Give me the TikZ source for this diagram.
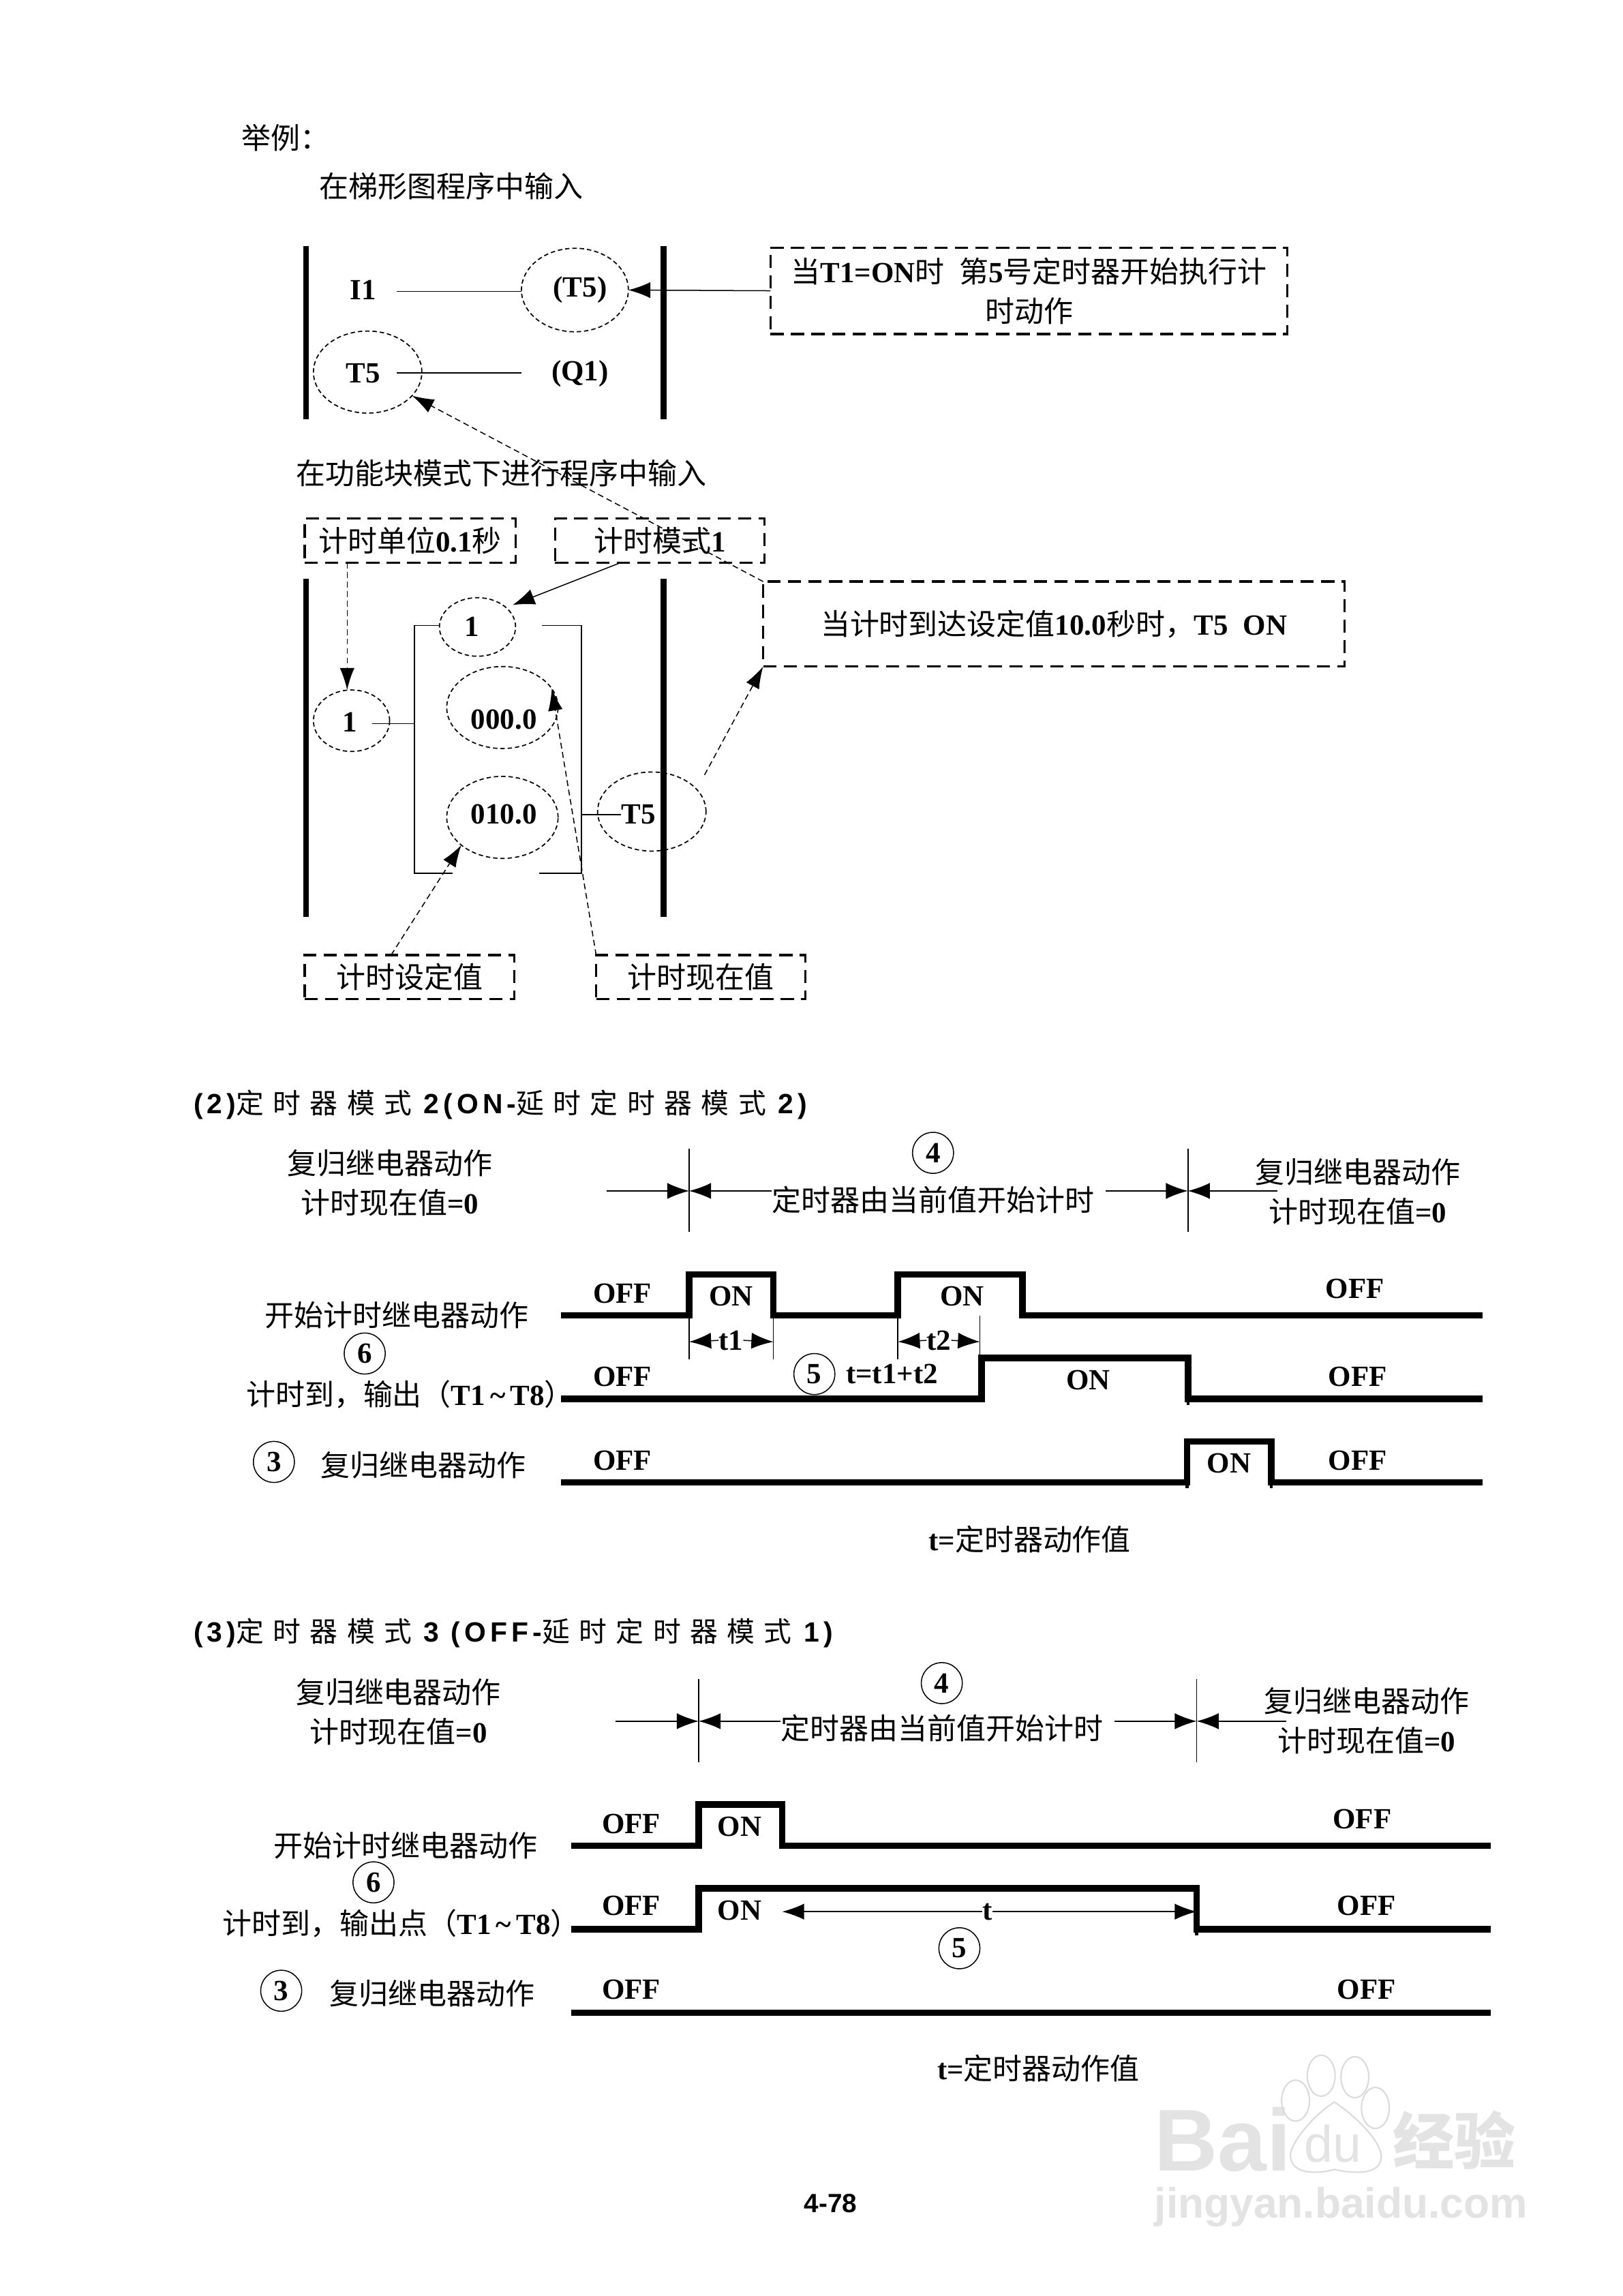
\documentclass[tikz,border=0pt]{standalone}
\usepackage{fontspec}
\setmainfont{Liberation Serif}
\newfontfamily\cjk{Noto Sans CJK SC}
\newfontfamily\titlezh[LetterSpace=33]{Noto Sans CJK SC}
\newfontfamily\titlelat[LetterSpace=15]{Liberation Sans}
\newfontfamily\sanslat{Liberation Sans}
\newcommand{\zh}[1]{{\cjk\mdseries #1}}
\newcommand{\labfont}{\fontsize{20}{27}\selectfont\bfseries}
\usetikzlibrary{arrows.meta,positioning,calc,shapes.geometric}

\begin{document}
\begin{tikzpicture}[
  x=1pt,y=-1pt,
  lab/.style={font=\labfont,inner sep=0pt},
  head/.style={font=\fontsize{19}{23}\selectfont\bfseries,inner sep=0pt,anchor=west},
  rail/.style={line width=4pt},
  thin rule/.style={line width=0.8pt},
  wave/.style={line width=4.5pt,line join=miter},
  dotell/.style={ellipse,draw,line width=0.8pt,dash pattern=on 3pt off 2pt,inner sep=0pt,outer sep=0pt},
  dashbox/.style={rectangle,draw,line width=1.5pt,dash pattern=on 9pt off 5pt,font=\labfont,align=center,inner sep=0pt,outer sep=0pt},
  num/.style={circle,draw,line width=0.7pt,minimum size=28pt,inner sep=0pt,font=\labfont},
  solidtip/.style={line width=0.7pt,-{Latex[length=15pt,width=11pt]}},
  dashtip/.style={line width=0.7pt,dash pattern=on 4pt off 2.5pt,-{Latex[length=15pt,width=10pt]}},
  mark gray/.style={text=black!11,inner sep=0pt}
]
\fill[white] (0,0) rectangle (1108,1567.4);
\useasboundingbox (0,0) rectangle (1108,1567.4);

% ladder part
\node[lab,anchor=west] (example) at (165,94) {\zh{举例：}};
\node[lab,anchor=west] (laddertitle) at (218,127) {\zh{在梯形图程序中输入}};

\draw[rail] (209,168) -- (209,286);
\draw[rail] (453,168) -- (453,286);

\node[lab] (i1) at (248,198) {I1};
\node[dotell,minimum width=73pt,minimum height=57pt] (coil) at (392.5,198) {};
\node[lab] (coillab) at (396,198) {(T5)};
\node[dotell,minimum width=74pt,minimum height=56pt] (contact) at (251,254) {};
\node[lab] (contactlab) at (248,255) {T5};
\node[lab] (q1) at (396,255) {(Q1)};

\coordinate (i1out) at (271,199);
\coordinate (contactout) at (271,254.5);
\coordinate (q1in) at (356,254.5);
\draw[thin rule] (i1out) -- (i1out -| coil.west);
\draw[thin rule] (contactout) -- (q1in);

\node[dashbox,minimum width=353pt,minimum height=59pt] (startnote) at (702.5,198.5)
  {\zh{当}T1=ON\zh{时}\ \ \zh{第}5\zh{号定时器开始执行计}\\\zh{时动作}};
\draw[solidtip] (startnote.west) -- (coil.east);

% function block part
\node[lab,anchor=west] (blocktitle) at (202,323) {\zh{在功能块模式下进行程序中输入}};

\node[dashbox,minimum width=144pt,minimum height=30pt] (unitbox) at (280,369) {\zh{计时单位}0.1\zh{秒}};
\node[dashbox,minimum width=143pt,minimum height=30pt] (modebox) at (450.5,369) {\zh{计时模式}1};
\node[dashbox,minimum width=143pt,minimum height=30pt] (setbox) at (279.5,667) {\zh{计时设定值}};
\node[dashbox,minimum width=143pt,minimum height=30pt] (curbox) at (478.5,667) {\zh{计时现在值}};
\node[dashbox,minimum width=397pt,minimum height=58pt] (timenote) at (719.5,426)
  {\zh{当计时到达设定值}10.0\zh{秒时，}T5\ \ ON};

\draw[rail] (209,395) -- (209,626);
\draw[rail] (453,395) -- (453,626);

\node[dotell,minimum width=52pt,minimum height=42pt] (inpone) at (240,492) {};
\node[lab] (inponelab) at (239,493) {1};
\node[dotell,minimum width=52pt,minimum height=40pt] (modeone) at (326,428) {};
\node[lab] (modeonelab) at (322,428) {1};
\node[dotell,minimum width=76pt,minimum height=56pt] (curval) at (343,483) {};
\node[lab] (curvallab) at (344,491) {000.0};
\node[dotell,minimum width=76pt,minimum height=56pt] (setval) at (343,558) {};
\node[lab] (setvallab) at (344,556) {010.0};
\node[dotell,minimum width=74pt,minimum height=54pt] (outell) at (445,554) {};
\node[lab] (outlab) at (436,556) {T5};

\draw[thin rule] (300,427) -- (283,427) -- (283,596) -- (309,596);
\draw[thin rule] (370,427) -- (397,427) -- (397,596) -- (368,596);

\coordinate (inpout) at (254,494);
\coordinate (blockw) at (283,494);
\coordinate (blocke) at (397,556);
\coordinate (outin) at (424,556);
\draw[thin rule] (inpout) -- (blockw);
\draw[thin rule] (blocke) -- (outin);

\coordinate (unitout) at (237,384);
\coordinate (modeout) at (424,384);
\coordinate (modetip) at (350,413);
\coordinate (setout) at (267,652);
\coordinate (outtail) at (481,529);
\draw[dashtip] (unitout) -- (unitout |- inpone.north);
\draw[solidtip] (modeout) -- (modetip);
\draw[dashtip] (setout) -- (setval.214);
\draw[dashtip] (curbox.north west) -- (curval.21);
\draw[dashtip] (outtail) -- (timenote.south west);
\draw[dashtip] (timenote.north west) -- (contact.-28);

% mode 2
\node[head] (titletwo) at (132,754) {{\titlelat(2)}{\titlezh\mdseries 定时器模式}{\titlelat\ 2(ON-}{\titlezh\mdseries 延时定时器模式}{\titlelat\ 2)}};

\node[lab] (resetla) at (266,794) {\zh{复归继电器动作}};
\node[lab] (nowla) at (266,821) {\zh{计时现在值}=0};
\node[lab] (resetra) at (927,800) {\zh{复归继电器动作}};
\node[lab] (nowra) at (927,827) {\zh{计时现在值}=0};
\node[num] (foura) at (637,787) {4};
\node[lab] (runa) at (637,819) {\zh{定时器由当前值开始计时}};

\draw[thin rule] (470.5,784) -- (470.5,841);
\draw[thin rule] (811,784) -- (811,841);
\coordinate (ka) at (470.5,813);
\coordinate (kb) at (811,813);
\coordinate (tailaa) at (414,813);
\coordinate (tailab) at (527,813);
\coordinate (tailba) at (755,813);
\coordinate (tailbb) at (872,813);
\draw[solidtip] (tailaa) -- (ka);
\draw[solidtip] (tailab) -- (ka);
\draw[solidtip] (tailba) -- (kb);
\draw[solidtip] (tailbb) -- (kb);

\def\ylow{898}
\def\yhigh{870}
\draw[wave] (383,\ylow) -- (470.5,\ylow) -- (470.5,\yhigh) -- (528,\yhigh) -- (528,\ylow) -- (613,\ylow) -- (613,\yhigh) -- (698,\yhigh) -- (698,\ylow) -- (1012,\ylow);
\node[lab] (starta) at (271,898) {\zh{开始计时继电器动作}};
\node[lab] (offaa) at (425,883) {OFF};
\node[lab] (onaa) at (499,885) {ON};
\node[lab] (onab) at (657,885) {ON};
\node[lab] (offab) at (925,880) {OFF};

\draw[thin rule] (470.5,\ylow) -- (470.5,928);
\draw[thin rule] (528,\ylow) -- (528,928);
\draw[thin rule] (613,\ylow) -- (613,928);
\draw[thin rule] (669,\ylow) -- (669,928);
\node[lab] (tone) at (499,915) {t1};
\node[lab] (ttwo) at (641,915) {t2};
\coordinate (toneleft) at (470.5,916);
\coordinate (toneright) at (528,916);
\coordinate (ttwoleft) at (613,916);
\coordinate (ttworight) at (669,916);
\draw[solidtip] (tone.west) -- (toneleft);
\draw[solidtip] (tone.east) -- (toneright);
\draw[solidtip] (ttwo.west) -- (ttwoleft);
\draw[solidtip] (ttwo.east) -- (ttworight);

\node[num] (sixa) at (249,924) {6};
\node[lab,anchor=east] (outa) at (392,952) {\zh{计时到，输出（}T1\,\textasciitilde\,T8\zh{）}};
\def\ylow{955}
\def\yhigh{927}
\draw[wave] (383,\ylow) -- (670,\ylow) -- (670,\yhigh) -- (811,\yhigh) -- (811,\ylow) -- (1012,\ylow);
\draw[line width=2pt] (811,\ylow) -- (811,959);
\node[lab] (offba) at (425,940) {OFF};
\node[num] (fivea) at (556,938) {5};
\node[lab] (sum) at (609,938) {t=t1+t2};
\node[lab] (onba) at (743,942) {ON};
\node[lab] (offbb) at (927,940) {OFF};

\node[num] (threea) at (187,998) {3};
\node[lab] (reseta) at (289,1000) {\zh{复归继电器动作}};
\def\ylow{1012}
\def\yhigh{984}
\draw[wave] (383,\ylow) -- (810.5,\ylow) -- (810.5,\yhigh) -- (868,\yhigh) -- (868,\ylow) -- (1012,\ylow);
\draw[line width=2pt] (810.5,\ylow) -- (810.5,1016);
\draw[line width=2pt] (868,\ylow) -- (868,1016);
\node[lab] (offca) at (425,997) {OFF};
\node[lab] (onca) at (839,999) {ON};
\node[lab] (offcb) at (927,997) {OFF};
\node[lab] (notea) at (703,1051) {t=\zh{定时器动作值}};

% mode 3
\node[head] (titlethree) at (132,1115) {{\titlelat(3)}{\titlezh\mdseries 定时器模式}{\titlelat\ 3 (OFF-}{\titlezh\mdseries 延时定时器模式}{\titlelat\ 1)}};

\node[lab] (resetlb) at (272,1155) {\zh{复归继电器动作}};
\node[lab] (nowlb) at (272,1182) {\zh{计时现在值}=0};
\node[lab] (resetrb) at (933,1161) {\zh{复归继电器动作}};
\node[lab] (nowrb) at (933,1188) {\zh{计时现在值}=0};
\node[num] (fourb) at (643,1149) {4};
\node[lab] (runb) at (643,1180) {\zh{定时器由当前值开始计时}};

\draw[thin rule] (477,1146) -- (477,1203);
\draw[thin rule] (817,1146) -- (817,1203);
\coordinate (kc) at (477,1175);
\coordinate (kd) at (817,1175);
\coordinate (tailca) at (420,1175);
\coordinate (tailcb) at (533,1175);
\coordinate (taildb) at (761,1175);
\coordinate (taildc) at (878,1175);
\draw[solidtip] (tailca) -- (kc);
\draw[solidtip] (tailcb) -- (kc);
\draw[solidtip] (taildb) -- (kd);
\draw[solidtip] (taildc) -- (kd);

\def\ylow{1260}
\def\yhigh{1232}
\draw[wave] (390,\ylow) -- (477,\ylow) -- (477,\yhigh) -- (534,\yhigh) -- (534,\ylow) -- (1018,\ylow);
\node[lab] (startb) at (277,1260) {\zh{开始计时继电器动作}};
\node[lab] (offda) at (431,1245) {OFF};
\node[lab] (onda) at (505,1247) {ON};
\node[lab] (offdb) at (930,1242) {OFF};

\node[num] (sixb) at (255,1285) {6};
\node[lab,anchor=east] (outb) at (396,1313) {\zh{计时到，输出点（}T1\,\textasciitilde\,T8\zh{）}};
\def\ylow{1317}
\def\yhigh{1289}
\draw[wave] (390,\ylow) -- (477,\ylow) -- (477,\yhigh) -- (817,\yhigh) -- (817,\ylow) -- (1018,\ylow);
\draw[line width=2pt] (817,\ylow) -- (817,1321);
\node[lab] (offea) at (431,1301) {OFF};
\node[lab] (onea) at (505,1304) {ON};
\node[lab] (tlab) at (674,1305) {t};
\node[lab] (offeb) at (933,1301) {OFF};
\coordinate (tleft) at (534,1305);
\coordinate (tright) at (817,1305);
\draw[solidtip] (tlab.west) -- (tleft);
\draw[solidtip] (tlab.east) -- (tright);
\node[num] (fiveb) at (655,1330) {5};

\node[num] (threeb) at (192,1359) {3};
\node[lab] (resetb) at (295,1361) {\zh{复归继电器动作}};
\draw[wave] (390,1374) -- (1018,1374);
\node[lab] (offfa) at (431,1358) {OFF};
\node[lab] (offfb) at (933,1358) {OFF};
\node[lab] (noteb) at (709,1412) {t=\zh{定时器动作值}};

\node[lab,font=\fontsize{18}{22}\selectfont\bfseries\sanslat] (pageno) at (567,1504) {4-78};

% watermark
\node[mark gray,font=\fontsize{60}{60}\selectfont\bfseries\sanslat,anchor=base west] (wmbai) at (788,1482) {Bai};
\draw[black!14,line width=1pt] (884.5,1434) ellipse (9.5 and 14);
\draw[black!14,line width=1pt] (902,1417) ellipse (9.5 and 14);
\draw[black!14,line width=1pt] (925,1418) ellipse (9.5 and 14);
\draw[black!14,line width=1pt] (939,1439) ellipse (9.5 and 14);
\draw[black!14,line width=1pt] (911,1435) .. controls (895,1445) and (880,1465) .. (881,1472) .. controls (882,1485) and (900,1484) .. (911,1481) .. controls (925,1484) and (943,1485) .. (943,1472) .. controls (943,1462) and (925,1444) .. (911,1435);
\node[mark gray,font=\fontsize{35}{35}\selectfont\sanslat,anchor=base] (wmdu) at (910,1476) {du};
\node[mark gray,font=\fontsize{42}{42}\selectfont\bfseries\cjk] (wmzh) at (993,1461) {经验};
\node[mark gray,font=\fontsize{29}{29}\selectfont\bfseries\sanslat,anchor=base west] (wmurl) at (788,1514) {jingyan.baidu.com};

\end{tikzpicture}
\end{document}
